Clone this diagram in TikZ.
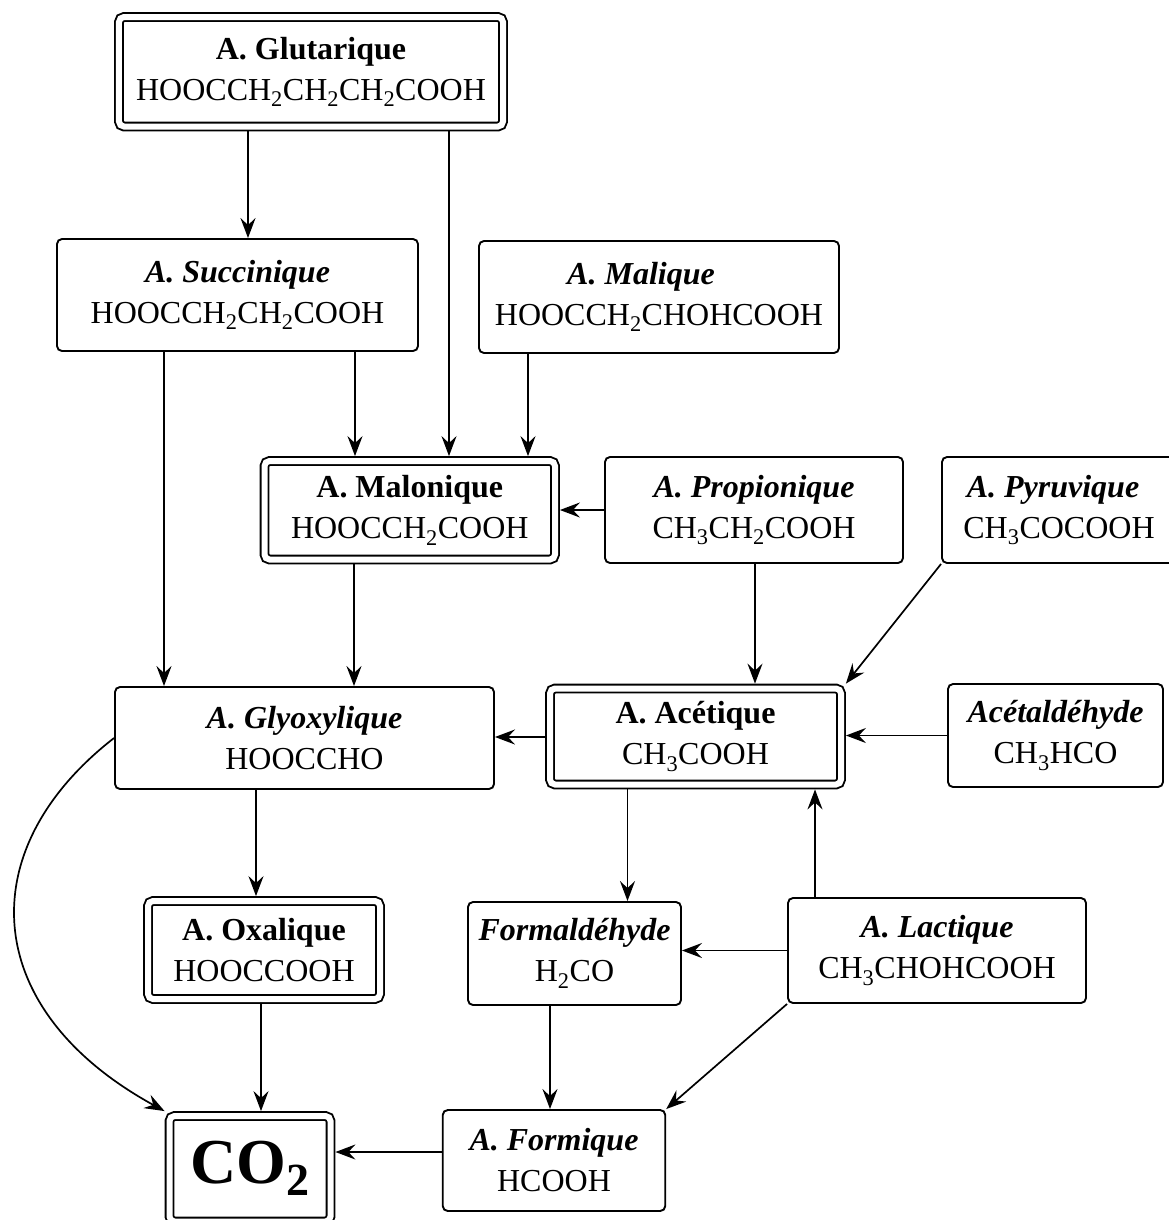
\documentclass[tikz,border=0pt]{standalone}
\usepackage{fontspec}
\setmainfont{Liberation Serif}
\usetikzlibrary{arrows.meta}

\begin{document}
\begin{tikzpicture}[x=1bp,y=-1bp,
  box/.style={draw, line width=1.9bp, rounded corners=5bp, inner sep=0pt,
    align=center, font=\fontsize{32bp}{41bp}\selectfont},
  dbox/.style={box, double, double distance=6bp, outer sep=4.9bp},
  arr/.style={line width=1.7bp, -{Stealth[length=20bp,width=15bp,inset=7bp]}},
]
\useasboundingbox (0,0) rectangle (1169,1220);

% acids and aldehydes
\node[dbox, minimum width=384bp, minimum height=109.5bp] (glut) at (311,71.75)
  {\textbf{A. Glutarique}\\HOOCCH\textsubscript{2}CH\textsubscript{2}CH\textsubscript{2}COOH};
\node[box, minimum width=361bp, minimum height=112bp] (succ) at (237.5,295)
  {\textbf{\textit{A. Succinique}}\\HOOCCH\textsubscript{2}CH\textsubscript{2}COOH};
\node[box, minimum width=360bp, minimum height=112bp] (mali) at (659,297)
  {\textbf{\textit{A. Malique}}\hspace*{36bp}\\HOOCCH\textsubscript{2}CHOHCOOH};
\node[dbox, minimum width=290.5bp, minimum height=98.5bp] (malo) at (409.75,510.25)
  {\textbf{A. Malonique}\\HOOCCH\textsubscript{2}COOH};
\node[box, minimum width=298bp, minimum height=106bp] (prop) at (754,510)
  {\textbf{\textit{A. Propionique}}\\CH\textsubscript{3}CH\textsubscript{2}COOH};
\node[box, minimum width=234bp, minimum height=106bp] (pyru) at (1059,510)
  {\textbf{\textit{A. Pyruvique}}\hspace*{12bp}\\CH\textsubscript{3}COCOOH};
\node[box, minimum width=379bp, minimum height=102bp] (glyo) at (304.5,738)
  {\textbf{\textit{A. Glyoxylique}}\\HOOCCHO};
\node[dbox, minimum width=291bp, minimum height=96bp] (acet) at (695.5,736.5)
  {\textbf{A. Acétique}\\CH\textsubscript{3}COOH};
\node[box, minimum width=215bp, minimum height=103bp] (acetal) at (1055.5,735.5)
  {\textbf{\textit{Acétaldéhyde}}\\CH\textsubscript{3}HCO};
\node[dbox, minimum width=232bp, minimum height=98bp] (oxal) at (264,950)
  {\textbf{A. Oxalique}\\HOOCCOOH};
\node[box, minimum width=213bp, minimum height=103bp] (form) at (574.5,953.5)
  {\textbf{\textit{Formaldéhyde}}\\H\textsubscript{2}CO};
\node[box, minimum width=298bp, minimum height=105bp] (lact) at (937,950.5)
  {\textbf{\textit{A. Lactique}}\\CH\textsubscript{3}CHOHCOOH};
\node[dbox, minimum width=161bp, minimum height=105.5bp] (co2) at (250,1168.75)
  {\fontsize{64bp}{64bp}\selectfont\textbf{CO\raisebox{-12bp}{\fontsize{46bp}{46bp}\selectfont 2}}};
\node[box, minimum width=222.5bp, minimum height=101bp] (formi) at (554,1160.5)
  {\textbf{\textit{A. Formique}}\\HCOOH};

% guide positions for the straight connectors
\coordinate (xa) at (248,0);
\coordinate (xb) at (449,0);
\coordinate (xc) at (164,0);
\coordinate (xd) at (355,0);
\coordinate (xe) at (528,0);
\coordinate (xf) at (354,0);
\coordinate (xg) at (755,0);
\coordinate (xh) at (627.5,0);
\coordinate (xi) at (815,0);
\coordinate (xj) at (256,0);
\coordinate (xk) at (261,0);
\coordinate (xl) at (550,0);
\coordinate (yj) at (0,737);
\coordinate (yt) at (0,1152);

% reactions
\draw[arr] (glut.south -| xa) -- (succ.north -| xa);
\draw[arr] (glut.south -| xb) -- (malo.north -| xb);
\draw[arr] (succ.south -| xc) -- (glyo.north -| xc);
\draw[arr] (succ.south -| xd) -- (malo.north -| xd);
\draw[arr] (mali.south -| xe) -- (malo.north -| xe);
\draw[arr] (prop.west) -- (malo.east |- prop.west);
\draw[arr] (prop.south -| xg) -- (acet.north -| xg);
\draw[arr] (pyru.south west) -- (acet.north east);
\draw[arr] (malo.south -| xf) -- (glyo.north -| xf);
\draw[arr] (acet.west |- yj) -- (glyo.east |- yj);
\draw[arr] (acetal.west) -- (acet.east |- acetal.west);
\draw[arr] (acet.south -| xh) -- (form.north -| xh);
\draw[arr] (lact.north -| xi) -- (acet.south -| xi);
\draw[arr] (lact.west) -- (form.east |- lact.west);
\draw[arr] (glyo.south -| xj) -- (oxal.north -| xj);
\draw[arr] (glyo.west) .. controls (-30,850) and (-20,1010) .. (co2.north west);
\draw[arr] (oxal.south -| xk) -- (co2.north -| xk);
\draw[arr] (form.south -| xl) -- (formi.north -| xl);
\draw[arr] (lact.south west) -- (formi.north east);
\draw[arr] (formi.west |- yt) -- (co2.east |- yt);
\end{tikzpicture}
\end{document}
